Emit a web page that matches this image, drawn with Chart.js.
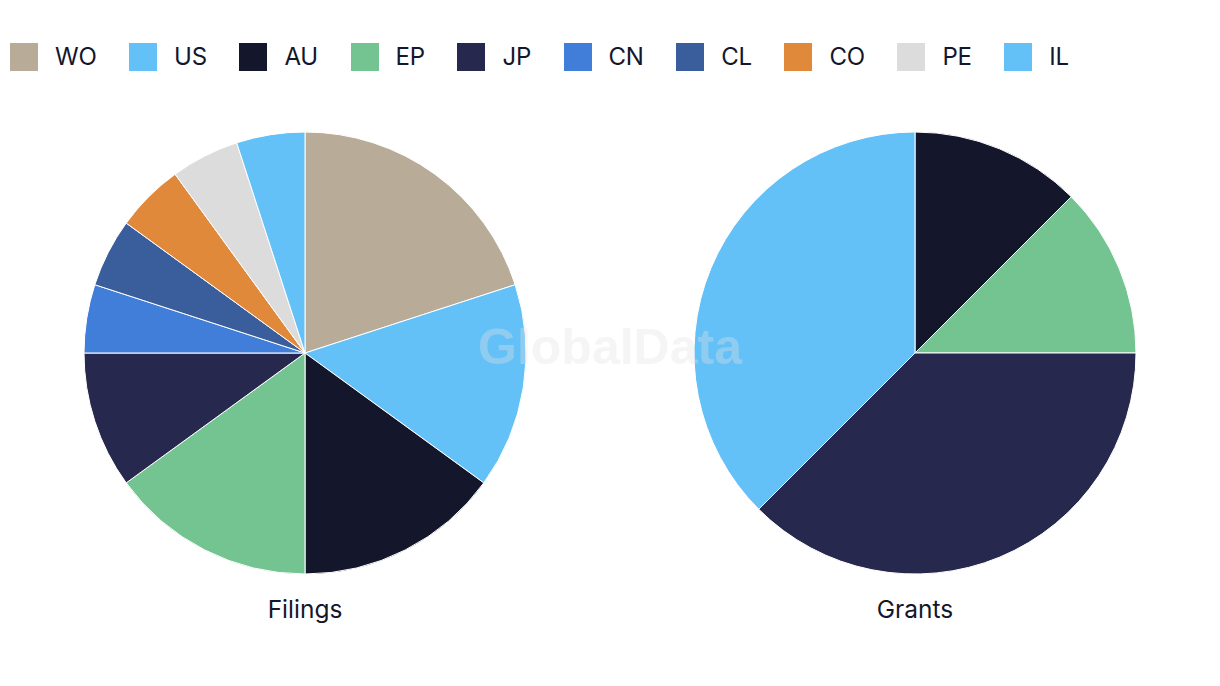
<!DOCTYPE html>
<html>
<head>
<meta charset="utf-8">
<script src="https://cdn.jsdelivr.net/npm/chart.js@4.4.0/dist/chart.umd.min.js"></script>
<style>
  html, body { margin: 0; padding: 0; background: #fff; width: 1220px; height: 686px; overflow: hidden; font-family: Inter, "Noto Sans", sans-serif; color: #14162b; }
  #legend { position: absolute; left: 10px; top: 43px; display: flex; align-items: center; height: 28px; }
  .item { display: flex; align-items: center; margin-right: 32.5px; }
  .sw { width: 28px; height: 28px; margin-right: 17px; }
  .lt { font-size: 24px; line-height: 28px; letter-spacing: -0.2px; }
  .box { position: absolute; top: 123px; width: 610px; height: 460px; }
  .cap { position: absolute; top: 594px; width: 610px; text-align: center; font-size: 24.5px; line-height: 30px; }
  #wm { position: absolute; left: 410px; width: 400px; top: 318px; text-align: center; font: bold 50px "Liberation Sans", Arial, sans-serif; color: rgba(225,225,225,0.35); pointer-events: none; }
</style>
</head>
<body>
<div id="legend"></div>
<div class="box" style="left:0"><canvas id="c1"></canvas></div>
<div class="box" style="left:610px"><canvas id="c2"></canvas></div>
<div class="cap" style="left:0">Filings</div>
<div class="cap" style="left:610px">Grants</div>
<div id="wm">GlobalData</div>
<script>
const legendLabels = ['WO', 'US', 'AU', 'EP', 'JP', 'CN', 'CL', 'CO', 'PE', 'IL'];
const legendColors = ['#b8ab97', '#63c1f7', '#14162b', '#73c491', '#27284d', '#407ed9', '#3a5d9c', '#e0893a', '#dcdcdc', '#63c1f7'];

const filingsLabels = ['WO', 'US', 'AU', 'EP', 'JP', 'CN', 'CL', 'CO', 'PE', 'IL'];
const filingsValues = [4, 3, 3, 3, 2, 1, 1, 1, 1, 1];

const grantsLabels = ['AU', 'EP', 'JP', 'US'];
const grantsValues = [1, 1, 3, 3];

const colorOf = l => legendColors[legendLabels.indexOf(l)];

const lg = document.getElementById('legend');
legendLabels.forEach((l, i) => {
  const it = document.createElement('div'); it.className = 'item';
  const sw = document.createElement('div'); sw.className = 'sw'; sw.style.background = legendColors[i];
  const t = document.createElement('span'); t.className = 'lt'; t.textContent = l;
  it.appendChild(sw); it.appendChild(t); lg.appendChild(it);
});

function makePie(id, labels, values) {
  new Chart(document.getElementById(id), {
    type: 'pie',
    data: { labels: labels, datasets: [{ data: values, backgroundColor: labels.map(colorOf), borderColor: '#ffffff', borderWidth: 1 }] },
    options: {
      responsive: true, maintainAspectRatio: false, animation: false,
      radius: 221,
      layout: { padding: 0 },
      plugins: { legend: { display: false }, tooltip: { enabled: false } }
    }
  });
}
makePie('c1', filingsLabels, filingsValues);
makePie('c2', grantsLabels, grantsValues);
</script>
</body>
</html>
